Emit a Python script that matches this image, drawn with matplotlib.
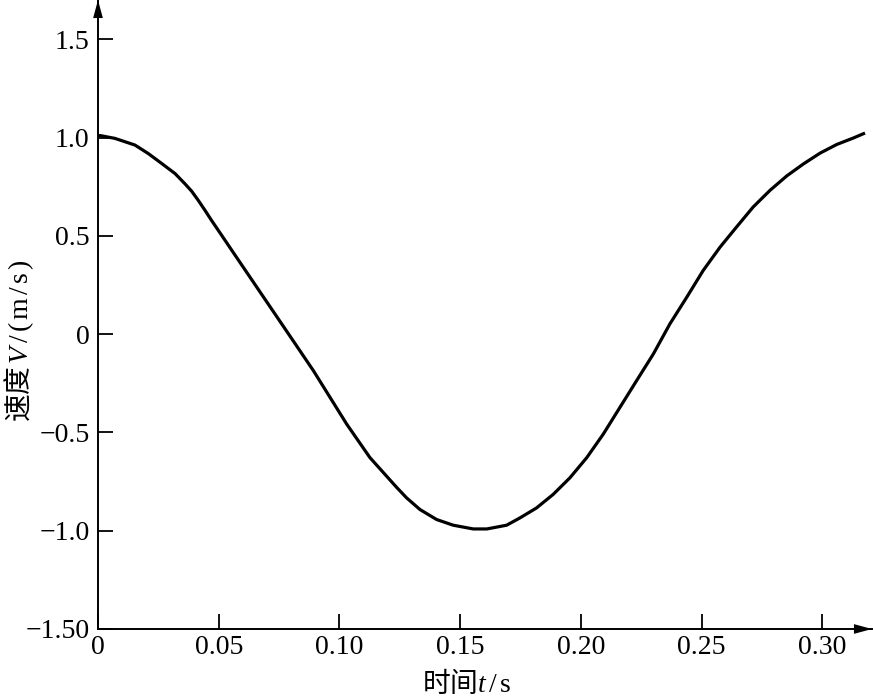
import matplotlib
matplotlib.use("Agg")
import matplotlib.pyplot as plt
from matplotlib.ticker import FixedLocator, FixedFormatter

plt.rcParams['font.family'] = ['Liberation Serif', 'Noto Sans CJK SC', 'DejaVu Sans']
plt.rcParams['mathtext.fontset'] = 'custom'
plt.rcParams['mathtext.it'] = 'Liberation Serif:italic'
plt.rcParams['mathtext.rm'] = 'Liberation Serif'

# velocity curve
t = [0.0, 0.001, 0.007, 0.0153, 0.0208, 0.0264, 0.0319, 0.036, 0.0388,
     0.0415, 0.0443, 0.047, 0.0512, 0.0567, 0.0636, 0.0705, 0.0774,
     0.0816, 0.0892, 0.096, 0.103, 0.1126, 0.1237, 0.1278, 0.1333,
     0.1402, 0.1471, 0.1554, 0.161, 0.1692, 0.1747, 0.1789, 0.1816,
     0.1885, 0.1954, 0.2024, 0.2092, 0.2161, 0.223, 0.23, 0.2368,
     0.2438, 0.2506, 0.2576, 0.2644, 0.2713, 0.2783, 0.2852, 0.2921,
     0.299, 0.3059, 0.3128, 0.317]
v = [1.01, 1.01, 0.996, 0.962, 0.919, 0.868, 0.817, 0.765, 0.727,
     0.681, 0.630, 0.579, 0.503, 0.403, 0.278, 0.153, 0.028,
     -0.048, -0.186, -0.32, -0.458, -0.628, -0.78, -0.833, -0.892,
     -0.943, -0.972, -0.991, -0.991, -0.972, -0.935, -0.904, -0.884,
     -0.815, -0.731, -0.628, -0.509, -0.373, -0.237, -0.10, 0.052,
     0.188, 0.324, 0.443, 0.545, 0.647, 0.732, 0.805, 0.866,
     0.921, 0.965, 0.998, 1.02]

xticks = [0, 0.05, 0.10, 0.15, 0.20, 0.25, 0.30]
xlabels = ["0", "0.05", "0.10", "0.15", "0.20", "0.25", "0.30"]
yticks = [1.5, 1.0, 0.5, 0, -0.5, -1.0, -1.5]
ylabels = ["1.5", "1.0", "0.5", "0", "\u22120.5", "\u22121.0", "\u22121.50"]

fig = plt.figure(figsize=(8.73, 6.98), dpi=100)
ax = fig.add_axes([98 / 873, 69 / 698, (872 - 98) / 873, 629 / 698])

ax.plot(t, v, color="black", linewidth=2.3, solid_joinstyle="round")

ax.set_xlim(0, 0.3205)
ax.set_ylim(-1.5, 1.70)

ax.xaxis.set_major_locator(FixedLocator(xticks))
ax.xaxis.set_major_formatter(FixedFormatter(xlabels))
ax.yaxis.set_major_locator(FixedLocator(yticks))
ax.yaxis.set_major_formatter(FixedFormatter(ylabels))

ax.tick_params(direction="in", length=11, width=1.3, labelsize=20, pad=4)
ax.tick_params(axis="y", pad=6)

for s in ["top", "right"]:
    ax.spines[s].set_visible(False)
for s in ["left", "bottom"]:
    ax.spines[s].set_linewidth(1.4)

# arrow heads at the axis ends
head = "-|>,head_length=1.3,head_width=0.35"
ax.annotate("", xy=(1, 0), xytext=(0.95, 0), xycoords="axes fraction",
            arrowprops=dict(arrowstyle=head, color="black", lw=0,
                            shrinkA=0, shrinkB=0))
ax.annotate("", xy=(0, 1), xytext=(0, 0.95), xycoords="axes fraction",
            arrowprops=dict(arrowstyle=head, color="black", lw=0,
                            shrinkA=0, shrinkB=0))

# CJK part as plain text in Noto, letters through mathtext in serif (spaced out)
ax.set_xlabel("时间$\\mathit{t}\\,\\mathrm{/}\\,\\mathrm{s}$", fontsize=20,
              family="Noto Sans CJK SC")
ax.set_ylabel("速度$\\,\\mathit{V}\\,\\mathrm{/}\\,\\mathrm{(}\\,\\mathrm{m}\\,"
              "\\mathrm{/}\\,\\mathrm{s}\\,\\mathrm{)}$", fontsize=20,
              family="Noto Sans CJK SC")
ax.xaxis.set_label_coords(0.477, -0.064)
ax.yaxis.set_label_coords(-0.080, 0.459)

fig.savefig("out.png", dpi=100)
